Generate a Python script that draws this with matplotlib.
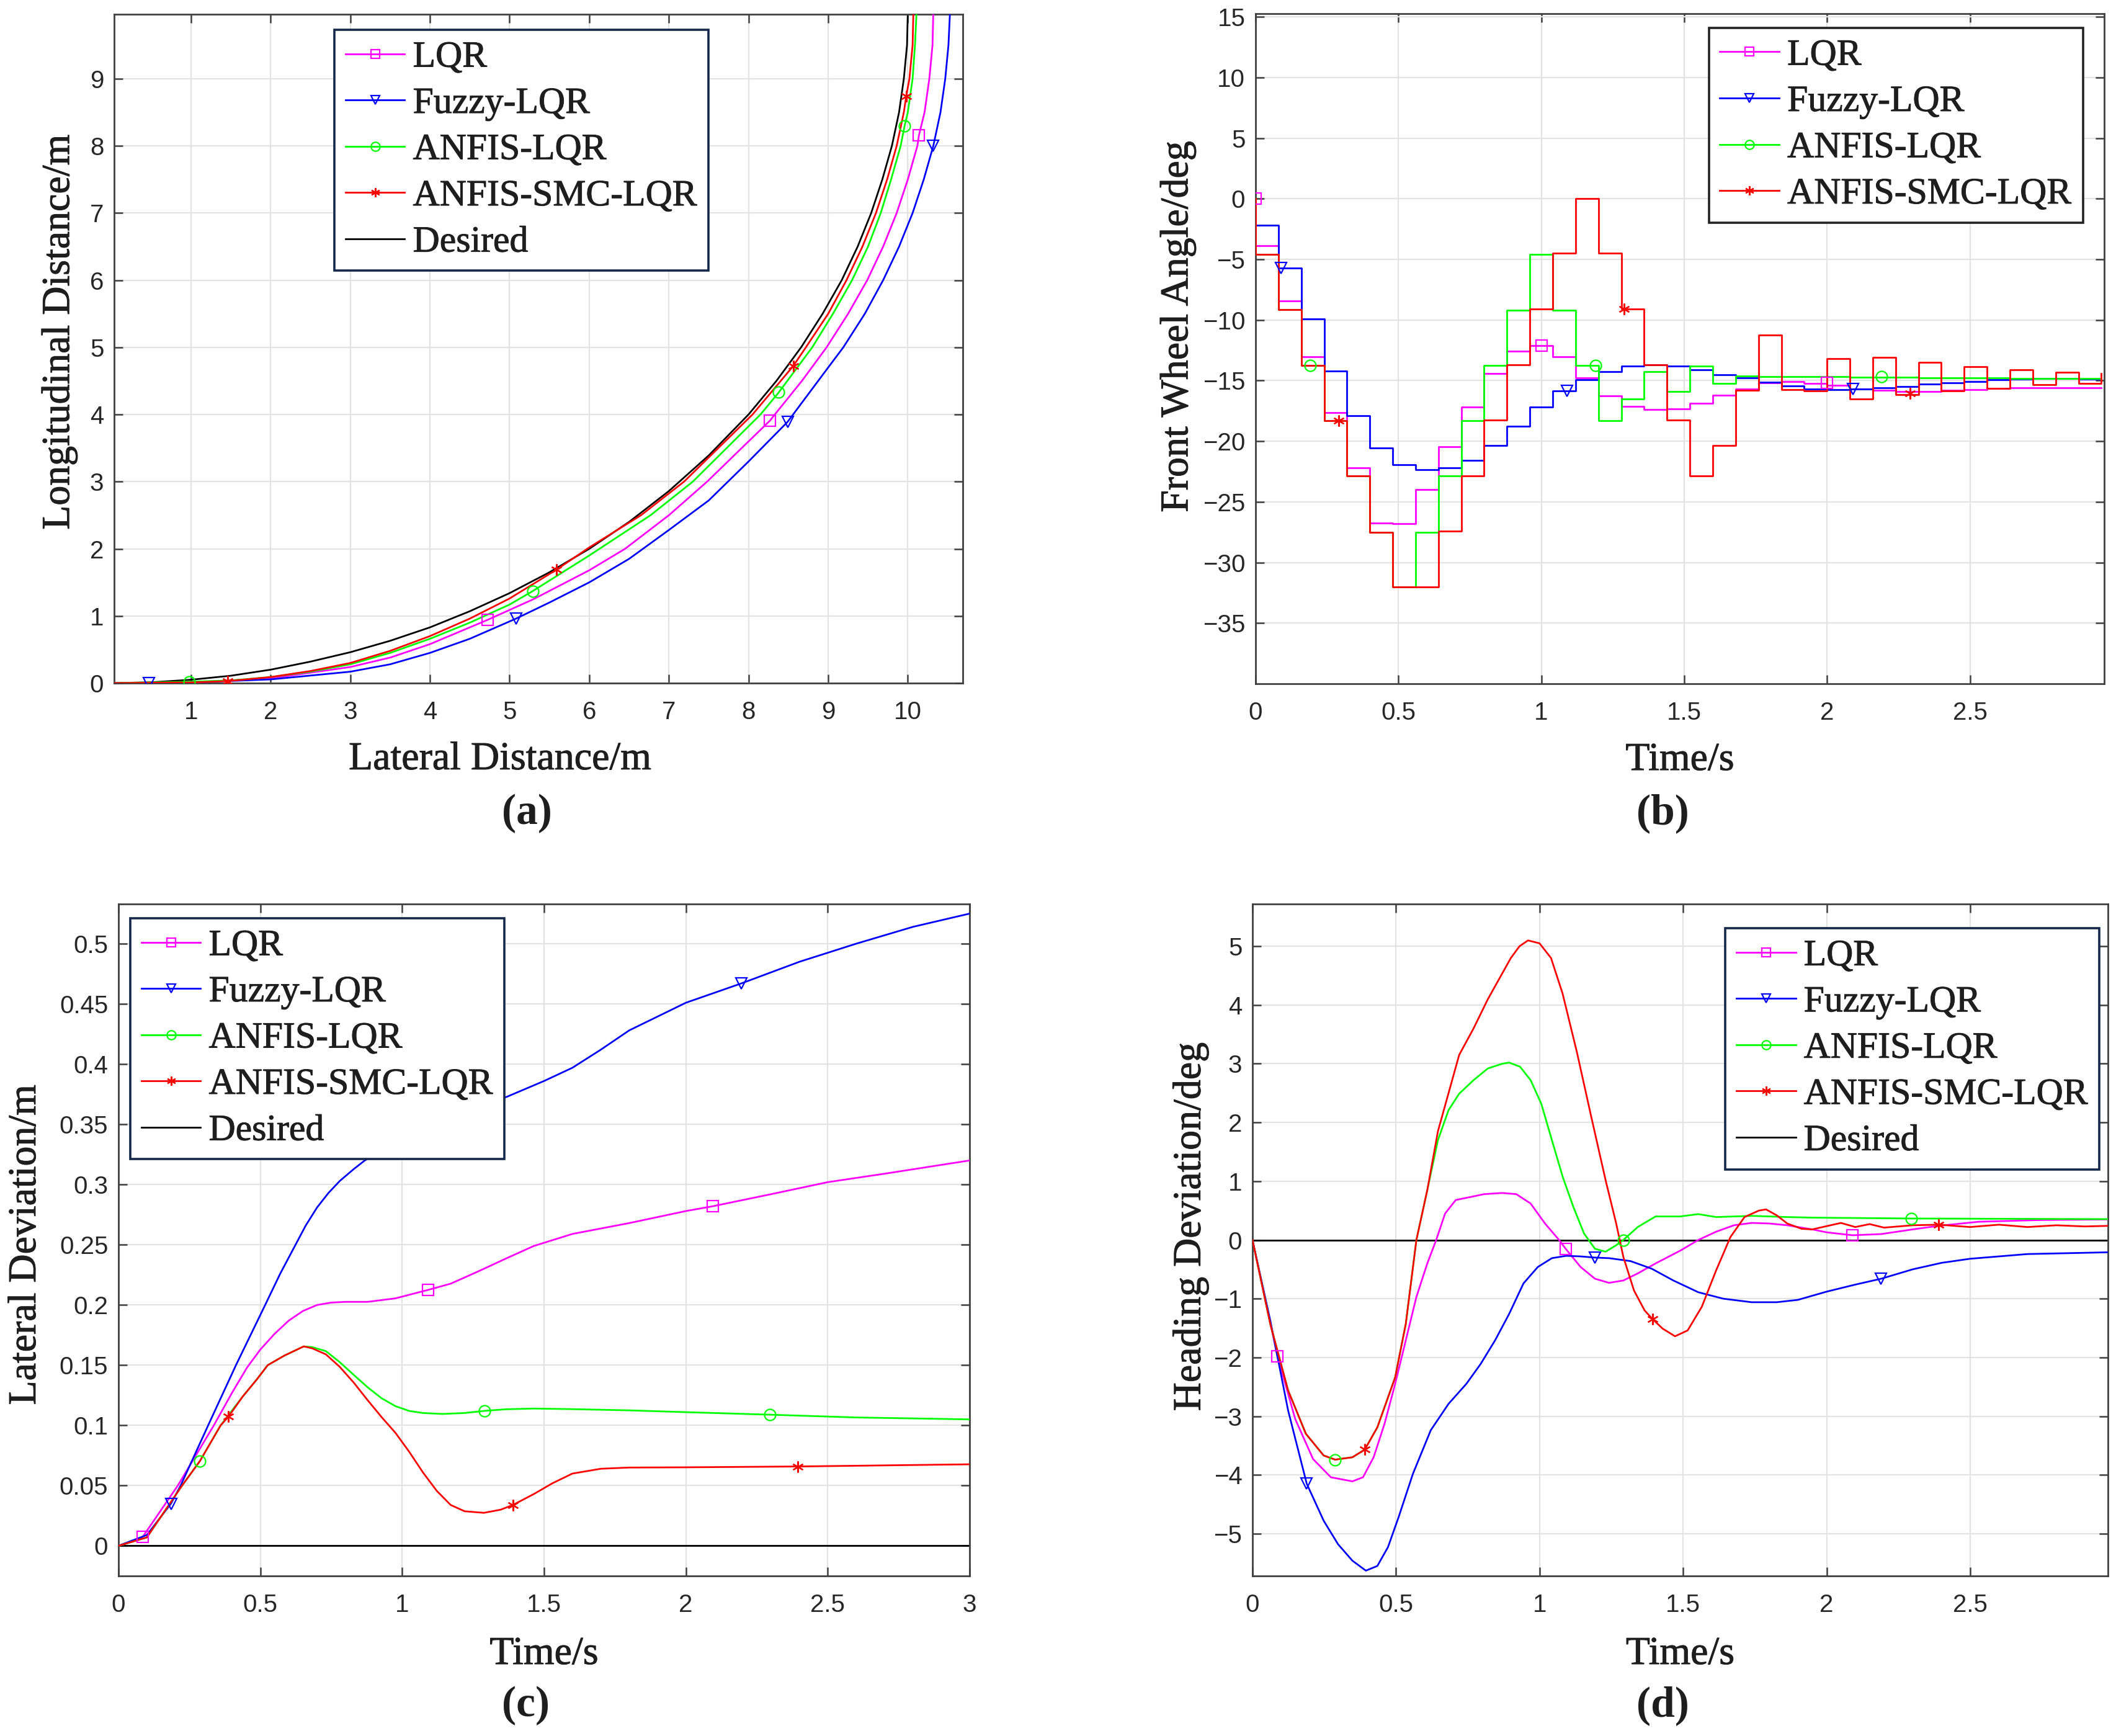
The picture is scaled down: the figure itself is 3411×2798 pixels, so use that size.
import numpy as np
import matplotlib
matplotlib.use("Agg")
import matplotlib.pyplot as plt
import matplotlib.patheffects as pe
from matplotlib.lines import Line2D
from matplotlib.ticker import FuncFormatter

# ---------------- common ----------------
names = ["LQR", "Fuzzy-LQR", "ANFIS-LQR", "ANFIS-SMC-LQR", "Desired"]
colors = ["#FF00FF", "#0000FF", "#00FF00", "#FF0000", "#000000"]
markers = ["s", "v", "o", (6, 2, 0), None]

# ---------------- (a) trajectory ----------------
a_des_x = [0, 0.5, 1, 1.5, 2, 2.5, 3, 3.5, 4, 4.5, 5, 5.5, 6, 6.5, 7, 7.5, 8, 8.35, 8.66, 8.93, 9.17, 9.37, 9.54,
           9.68, 9.8, 9.89, 9.95, 9.99, 10.0]
a_des_y = [0, 0.012, 0.05, 0.11, 0.2, 0.32, 0.46, 0.63, 0.83, 1.07, 1.34, 1.65, 2.0, 2.4, 2.86, 3.39, 4.0, 4.5, 5.0,
           5.5, 6.0, 6.5, 7.0, 7.5, 8.0, 8.5, 9.0, 9.5, 10.0]
a_smc_x = [0, 1, 1.46, 2, 2.5, 3, 3.5, 4, 4.5, 5, 5.59, 6, 6.65, 7.19, 8.05, 8.56, 8.72, 9.0, 9.23, 9.43, 9.6, 9.74,
           9.86, 9.95, 9.98, 10.02, 10.06, 10.07]
a_smc_y = [0, 0.01, 0.03, 0.09, 0.18, 0.3, 0.48, 0.7, 0.96, 1.26, 1.69, 2.02, 2.5, 3.0, 4.0, 4.72, 5.0, 5.5, 6.0,
           6.5, 7.0, 7.5, 8.0, 8.5, 8.74, 9.0, 9.5, 10.0]
a_anf_x = [0, 0.98, 1.5, 2, 2.5, 3, 3.5, 4, 4.5, 5, 5.29, 6, 6.77, 7.3, 8.15, 8.38, 8.8, 9.06, 9.3, 9.5, 9.66, 9.79,
           9.91, 9.96, 10.0, 10.06, 10.09, 10.11]
a_anf_y = [0, 0.02, 0.04, 0.09, 0.17, 0.28, 0.45, 0.66, 0.9, 1.17, 1.37, 1.9, 2.5, 3.0, 4.0, 4.33, 5.0, 5.5, 6.0,
           6.5, 7.0, 7.5, 8.0, 8.3, 8.5, 9.0, 9.5, 10.0]
a_lqr_x = [0, 1, 2, 3, 3.5, 4, 4.72, 5.3, 6, 6.45, 7.0, 7.48, 8.27, 8.33, 8.67, 8.98, 9.25, 9.49, 9.69, 9.86, 10.0,
           10.12, 10.14, 10.21, 10.27, 10.31, 10.32]
a_lqr_y = [0, 0.01, 0.07, 0.24, 0.38, 0.58, 0.94, 1.25, 1.68, 2.0, 2.5, 3.0, 3.91, 4.0, 4.5, 5.0, 5.5, 6.0, 6.5,
           7.0, 7.5, 8.0, 8.16, 8.5, 9.0, 9.5, 10.0]
a_fuz_x = [0, 0.47, 1, 2, 3, 3.5, 4, 4.5, 5.08, 5.5, 6, 6.5, 7, 7.5, 8, 8.49, 9.0, 9.19, 9.46, 9.69, 9.89, 10.06,
           10.2, 10.32, 10.41, 10.47, 10.51, 10.53]
a_fuz_y = [0, 0.0, 0.01, 0.055, 0.17, 0.28, 0.45, 0.66, 0.96, 1.2, 1.5, 1.85, 2.28, 2.72, 3.3, 3.89, 4.7, 5.0, 5.5,
           6.0, 6.5, 7.0, 7.5, 8.0, 8.5, 9.0, 9.5, 10.0]
a_mk_lqr = ([4.72, 8.27, 10.14], [0.94, 3.91, 8.16])
a_mk_fuz = ([0.47, 5.08, 8.49, 10.32], [0.0, 0.96, 3.89, 8.0])
a_mk_anf = ([0.98, 5.29, 8.38, 9.96], [0.02, 1.37, 4.33, 8.30])
a_mk_smc = ([1.46, 5.59, 8.56, 9.98], [0.03, 1.69, 4.72, 8.74])

# ---------------- (b) front wheel angle (sampled, 0.08 s) ----------------
b_dt = 0.08
b_lqr = [-3.88, -8.42, -13.06, -17.63, -22.19, -26.76, -26.8, -24.0, -20.46, -17.17, -14.43, -12.6, -12.1,
         -13.06, -14.77, -16.26, -17.12, -17.4, -17.35, -16.87, -16.19, -15.68, -15.16, -15.07, -15.25, -15.41,
         -15.7, -15.8, -15.9, -15.9, -15.8, -15.73, -15.64, -15.57, -15.57, -15.57, -15.57, -15.57]
b_fuz = [-2.17, -5.71, -9.93, -14.2, -17.88, -20.55, -21.96, -22.37, -22.19, -21.58, -20.37, -18.77, -17.17,
         -15.87, -14.93, -14.27, -13.79, -13.7, -13.8, -14.1, -14.5, -14.8, -15.15, -15.46, -15.68, -15.73,
         -15.7, -15.6, -15.5, -15.3, -15.2, -15.07, -14.95, -14.88, -14.85, -14.85, -14.9, -14.9]
b_anf = [-4.57, -9.13, -13.74, -18.3, -22.88, -27.5, -32.0, -27.5, -22.88, -18.3, -13.74, -9.18, -4.61,
         -9.18, -13.74, -18.3, -16.53, -14.25, -15.9, -13.8, -15.23, -14.6, -14.66, -14.66, -14.68, -14.68,
         -14.7, -14.72, -14.74, -14.76, -14.78, -14.8, -14.8, -14.82, -14.82, -14.84, -14.84, -14.84]
b_smc = [-4.57, -9.13, -13.74, -18.3, -22.88, -27.5, -32.0, -32.0, -27.4, -22.88, -18.26, -13.7, -9.09,
         -4.5, 0.0, -4.5, -9.09, -13.7, -18.26, -22.88, -20.37, -15.8, -11.23, -15.75, -15.84, -13.17,
         -16.53, -13.1, -16.14, -13.52, -15.84, -13.86, -15.62, -14.09, -15.34, -14.32, -15.23, -14.4]
b_mk_lqr = ([0.0, 1.0, 2.0], [0.0, -12.1, -15.16])
b_mk_fuz = ([0.09, 1.09, 2.09], [-5.71, -15.87, -15.68])
b_mk_anf = ([0.19, 1.19, 2.19], [-13.74, -13.74, -14.66])
b_mk_smc = ([0.29, 1.29, 2.29], [-18.3, -9.09, -16.07])

# ---------------- (c) lateral deviation ----------------
c_lqr_t = [0, 0.085, 0.209, 0.336, 0.4, 0.453, 0.5, 0.55, 0.6, 0.65, 0.7, 0.75, 0.8, 0.878, 0.976, 1.091,
           1.171, 1.269, 1.366, 1.464, 1.6, 1.8, 2.0, 2.095, 2.3, 2.5, 2.7, 3.0]
c_lqr_y = [0, 0.0073, 0.05, 0.1, 0.127, 0.148, 0.163, 0.176, 0.187, 0.195, 0.2, 0.202, 0.2026, 0.2026, 0.2055,
           0.2125, 0.2177, 0.228, 0.2386, 0.249, 0.259, 0.268, 0.278, 0.282, 0.292, 0.302, 0.309, 0.32]
c_fuz_t = [0, 0.1, 0.185, 0.219, 0.316, 0.414, 0.517, 0.57, 0.624, 0.66, 0.7, 0.74, 0.78, 0.83, 0.868, 1.0, 1.1,
           1.2, 1.3, 1.37, 1.5, 1.6, 1.7, 1.8, 2.0, 2.195, 2.4, 2.6, 2.8, 3.0]
c_fuz_y = [0, 0.009, 0.035, 0.05, 0.1, 0.15, 0.2, 0.226, 0.25, 0.266, 0.281, 0.293, 0.303, 0.313, 0.32, 0.337,
           0.349, 0.359, 0.367, 0.373, 0.386, 0.397, 0.412, 0.428, 0.451, 0.467, 0.485, 0.5, 0.514, 0.525]
c_anf_t = [0, 0.1, 0.224, 0.287, 0.36, 0.438, 0.487, 0.526, 0.585, 0.653, 0.683, 0.731, 0.78, 0.829, 0.878, 0.927,
           0.976, 1.025, 1.073, 1.142, 1.22, 1.291, 1.366, 1.464, 1.6, 1.8, 2.0, 2.295, 2.6, 3.0]
c_anf_y = [0, 0.007, 0.05, 0.0704, 0.1, 0.124, 0.138, 0.15, 0.158, 0.1656, 0.165, 0.1617, 0.1525, 0.142, 0.1317,
           0.1226, 0.116, 0.112, 0.1103, 0.1095, 0.1103, 0.1121, 0.1134, 0.114, 0.1135, 0.1125, 0.111, 0.1089,
           0.1066, 0.105]
c_smc_t = [0, 0.1, 0.224, 0.287, 0.36, 0.388, 0.438, 0.487, 0.526, 0.585, 0.653, 0.683, 0.731, 0.78, 0.829, 0.878,
           0.927, 0.976, 1.025, 1.073, 1.122, 1.171, 1.22, 1.288, 1.347, 1.39, 1.464, 1.53, 1.6, 1.7, 1.8, 2.0,
           2.4, 3.0]
c_smc_y = [0, 0.007, 0.05, 0.0704, 0.1, 0.1074, 0.124, 0.138, 0.15, 0.158, 0.1656, 0.164, 0.159, 0.1486, 0.1356,
           0.121, 0.107, 0.0939, 0.078, 0.061, 0.0456, 0.0339, 0.0287, 0.0274, 0.03, 0.0339, 0.043, 0.052, 0.06,
           0.064, 0.065, 0.0652, 0.0659, 0.0677]
c_des_t = [0, 3.0]
c_des_y = [0, 0]
c_mk_lqr = ([0.085, 1.091, 2.095], [0.0073, 0.2125, 0.282])
c_mk_fuz = ([0.185, 1.19, 2.195], [0.035, 0.36, 0.467])
c_mk_anf = ([0.287, 1.291, 2.295], [0.0704, 0.1121, 0.1089])
c_mk_smc = ([0.388, 1.39, 2.395], [0.1074, 0.0339, 0.0659])

# ---------------- (d) heading deviation ----------------
d_lqr_t = [0, 0.087, 0.149, 0.211, 0.273, 0.348, 0.385, 0.422, 0.46, 0.497, 0.534, 0.571, 0.609, 0.64, 0.671,
           0.708, 0.758, 0.807, 0.87, 0.919, 0.969, 1.019, 1.068, 1.091, 1.143, 1.193, 1.242, 1.292, 1.342, 1.404,
           1.491, 1.553, 1.615, 1.677, 1.739, 1.801, 1.863, 1.95, 2.0, 2.09, 2.19, 2.3, 2.39, 2.53, 2.75, 2.98]
d_lqr_y = [0, -1.98, -3.05, -3.73, -4.04, -4.11, -4.04, -3.7, -3.13, -2.45, -1.71, -0.97, -0.4, 0, 0.45, 0.68,
           0.73, 0.78, 0.8, 0.78, 0.62, 0.28, 0, -0.15, -0.46, -0.66, -0.73, -0.69, -0.57, -0.4, -0.18, 0, 0.14,
           0.25, 0.29, 0.28, 0.25, 0.18, 0.13, 0.08, 0.1, 0.18, 0.24, 0.31, 0.34, 0.35]
d_fuz_t = [0, 0.062, 0.124, 0.189, 0.248, 0.298, 0.348, 0.395, 0.435, 0.472, 0.509, 0.559, 0.621, 0.683, 0.745,
           0.795, 0.845, 0.894, 0.944, 0.994, 1.043, 1.093, 1.143, 1.193, 1.242, 1.317, 1.391, 1.466, 1.553, 1.64,
           1.739, 1.826, 1.9, 2.0, 2.1, 2.19, 2.3, 2.4, 2.5, 2.7, 2.98]
d_fuz_y = [0, -1.37, -2.9, -4.15, -4.78, -5.18, -5.46, -5.63, -5.55, -5.23, -4.72, -3.98, -3.24, -2.79, -2.45,
           -2.11, -1.71, -1.26, -0.74, -0.46, -0.31, -0.27, -0.28, -0.3, -0.31, -0.36, -0.49, -0.69, -0.89, -1.0,
           -1.06, -1.06, -1.02, -0.88, -0.76, -0.66, -0.5, -0.39, -0.32, -0.24, -0.21]
d_anf_t = [0, 0.062, 0.124, 0.186, 0.248, 0.288, 0.348, 0.391, 0.435, 0.497, 0.534, 0.571, 0.609, 0.646, 0.683,
           0.72, 0.77, 0.82, 0.87, 0.894, 0.932, 0.969, 1.006, 1.043, 1.081, 1.118, 1.155, 1.193, 1.23, 1.267,
           1.292, 1.342, 1.404, 1.49, 1.553, 1.615, 1.739, 1.863, 1.95, 2.3, 2.98]
d_anf_y = [0, -1.43, -2.56, -3.3, -3.67, -3.74, -3.7, -3.57, -3.19, -2.34, -1.43, 0, 0.85, 1.7, 2.21, 2.49, 2.72,
           2.92, 3.0, 3.02, 2.95, 2.72, 2.32, 1.7, 1.07, 0.56, 0.11, -0.15, -0.2, -0.09, 0, 0.22, 0.4, 0.4, 0.44,
           0.39, 0.41, 0.39, 0.38, 0.365, 0.355]
d_smc_t = [0, 0.062, 0.124, 0.186, 0.248, 0.288, 0.348, 0.391, 0.435, 0.497, 0.534, 0.571, 0.609, 0.646, 0.683,
           0.72, 0.77, 0.82, 0.86, 0.9, 0.93, 0.96, 1.0, 1.04, 1.08, 1.13, 1.18, 1.23, 1.267, 1.292, 1.329, 1.366,
           1.394, 1.429, 1.472, 1.516, 1.565, 1.615, 1.665, 1.714, 1.764, 1.789, 1.826, 1.863, 1.913, 1.95, 2.05,
           2.1, 2.15, 2.2, 2.3, 2.39, 2.5, 2.6, 2.7, 2.8, 2.9, 2.98]
d_smc_y = [0, -1.43, -2.56, -3.3, -3.67, -3.74, -3.7, -3.57, -3.19, -2.34, -1.43, 0, 0.85, 1.85, 2.5, 3.15, 3.6,
           4.1, 4.45, 4.8, 5.0, 5.1, 5.05, 4.8, 4.2, 3.2, 2.1, 1.02, 0.28, -0.29, -0.86, -1.2, -1.35, -1.51, -1.64,
           -1.54, -1.14, -0.52, 0.05, 0.39, 0.5, 0.52, 0.42, 0.28, 0.19, 0.18, 0.29, 0.22, 0.27, 0.21, 0.25, 0.26,
           0.22, 0.26, 0.22, 0.25, 0.23, 0.24]
d_des_t = [0, 2.98]
d_des_y = [0, 0]
d_mk_lqr = ([0.087, 1.091, 2.09], [-1.98, -0.15, 0.08])
d_mk_fuz = ([0.189, 1.193, 2.19], [-4.15, -0.3, -0.66])
d_mk_anf = ([0.288, 1.292, 2.295], [-3.74, 0.0, 0.365])
d_mk_smc = ([0.391, 1.394, 2.39], [-3.57, -1.35, 0.26])

# ---------------- style ----------------
SERIF = ["Liberation Serif", "DejaVu Serif"]
SANS = ["Liberation Sans", "DejaVu Sans"]
plt.rcParams["font.family"] = SANS
plt.rcParams["axes.unicode_minus"] = True
LW = 2.0
MS = 13
MEW = 1.6
TXT = "#1e1e1e"
SPINE = "#404040"
HEAVY = [pe.withStroke(linewidth=0.7, foreground=TXT)]

W, H = 3411, 2798
fig = plt.figure(figsize=(W / 100, H / 100), dpi=100)


def box(l, r, b, t):
    return [l / W, 1 - b / H, (r - l) / W, (b - t) / H]


def style_axes(ax):
    for s in ax.spines.values():
        s.set_color(SPINE)
        s.set_linewidth(2.0)
    ax.tick_params(direction="in", length=10, width=1.8, colors=SPINE, labelcolor="#262626",
                   labelsize=29, top=True, right=True)
    ax.tick_params(axis="x", pad=20)
    ax.tick_params(axis="y", pad=12)
    ax.grid(True, color="#e3e3e3", linewidth=1.6)
    ax.set_axisbelow(True)
    for lab in ax.get_xticklabels() + ax.get_yticklabels():
        lab.set_family(SANS)


def curves(ax, series, mks):
    for i, (x, y) in enumerate(series):
        ax.plot(x, y, color=colors[i], lw=LW, zorder=3 + (i if i < 4 else -1))
    for i, (mx, my) in enumerate(mks):
        ax.plot(mx, my, ls="none", marker=markers[i], ms=MS, mfc="none", mec=colors[i], mew=MEW, zorder=7)


def legend(ax, n, anchor, edge):
    hs = []
    for i in range(n):
        hs.append(Line2D([0], [0], color=colors[i], lw=LW, marker=markers[i], ms=MS * 0.8,
                         mfc="none", mec=colors[i], mew=MEW))
    lg = ax.legend(hs, names[:n], loc="upper left", bbox_to_anchor=anchor, borderaxespad=0,
                   prop={"family": SERIF, "size": 43}, frameon=True, fancybox=False, framealpha=1,
                   edgecolor=edge, borderpad=0.3, labelspacing=0.33, handlelength=1.6,
                   handletextpad=0.22, numpoints=1)
    lg.get_frame().set_linewidth(2.6)
    lg.set_zorder(10)
    for t in lg.get_texts():
        t.set_color(TXT)
        t.set_path_effects(HEAVY)
    return lg


def labels(ax, xl, yl, xc, yc):
    ax.set_xlabel(xl, family=SERIF, fontsize=46, color=TXT, path_effects=HEAVY)
    ax.set_ylabel(yl, family=SERIF, fontsize=46, color=TXT, path_effects=HEAVY)
    ax.xaxis.set_label_coords(*xc)
    ax.yaxis.set_label_coords(*yc)


# ---- (a)
axa = fig.add_axes(box(184, 1552, 1101, 23))
curves(axa, [(a_lqr_x, a_lqr_y), (a_fuz_x, a_fuz_y), (a_anf_x, a_anf_y), (a_smc_x, a_smc_y), (a_des_x, a_des_y)],
       [a_mk_lqr, a_mk_fuz, a_mk_anf, a_mk_smc])
axa.set_xlim(0.035, 10.69)
axa.set_ylim(0, 9.96)
axa.set_xticks(range(1, 11))
axa.set_yticks(range(0, 10))
style_axes(axa)
legend(axa, 5, (0.2595, 0.977), "#14284a")
labels(axa, "Lateral Distance/m", "Longitudinal Distance/m", (0.4547, -0.088), (-0.043, 0.525))

# ---- (b)
axb = fig.add_axes(box(2024, 3392, 1102, 22))
k = np.arange(len(b_lqr))
t_edges = np.concatenate([[0.0], k * b_dt])
for i, vals in enumerate([b_lqr, b_fuz, b_anf, b_smc]):
    axb.plot(t_edges, np.concatenate([[0.0], vals]), drawstyle="steps-post", color=colors[i], lw=LW, zorder=3 + i)
for i, (mx, my) in enumerate([b_mk_lqr, b_mk_fuz, b_mk_anf, b_mk_smc]):
    axb.plot(mx, my, ls="none", marker=markers[i], ms=MS, mfc="none", mec=colors[i], mew=MEW, zorder=7)
axb.set_xlim(0, 2.97)
axb.set_ylim(-40, 15.26)
axb.set_xticks([0, 0.5, 1, 1.5, 2, 2.5])
axb.set_yticks(range(-35, 16, 5))
axb.xaxis.set_major_formatter(FuncFormatter(lambda v, p: "%g" % v))
style_axes(axb)
legend(axb, 4, (0.534, 0.979), "#222222")
labels(axb, "Time/s", "Front Wheel Angle/deg", (0.5, -0.088), (-0.070, 0.533))

# ---- (c)
axc = fig.add_axes(box(191, 1563, 2540, 1457))
curves(axc, [(c_lqr_t, c_lqr_y), (c_fuz_t, c_fuz_y), (c_anf_t, c_anf_y), (c_smc_t, c_smc_y), (c_des_t, c_des_y)],
       [c_mk_lqr, c_mk_fuz, c_mk_anf, c_mk_smc])
axc.set_xlim(0, 3)
axc.set_ylim(-0.025, 0.533)
axc.set_xticks([0, 0.5, 1, 1.5, 2, 2.5, 3])
axc.set_yticks(np.arange(0, 0.51, 0.05))
axc.xaxis.set_major_formatter(FuncFormatter(lambda v, p: "%g" % v))
axc.yaxis.set_major_formatter(FuncFormatter(lambda v, p: "%g" % round(v, 2)))
style_axes(axc)
legend(axc, 5, (0.0138, 0.979), "#14284a")
labels(axc, "Time/s", "Lateral Deviation/m", (0.5, -0.0905), (-0.0875, 0.493))

# ---- (d)
axd = fig.add_axes(box(2019, 3398, 2540, 1457))
curves(axd, [(d_lqr_t, d_lqr_y), (d_fuz_t, d_fuz_y), (d_anf_t, d_anf_y), (d_smc_t, d_smc_y), (d_des_t, d_des_y)],
       [d_mk_lqr, d_mk_fuz, d_mk_anf, d_mk_smc])
axd.set_xlim(0, 2.98)
axd.set_ylim(-5.72, 5.72)
axd.set_xticks([0, 0.5, 1, 1.5, 2, 2.5])
axd.set_yticks(range(-5, 6))
axd.xaxis.set_major_formatter(FuncFormatter(lambda v, p: "%g" % v))
style_axes(axd)
legend(axd, 5, (0.5526, 0.964), "#14284a")
labels(axd, "Time/s", "Heading Deviation/deg", (0.5, -0.0905), (-0.051, 0.52))

# panel letters
for lab, x, y in [("(a)", 849, 1311), ("(b)", 2680, 1311), ("(c)", 848, 2749), ("(d)", 2680, 2749)]:
    fig.text(x / W, 1 - y / H, lab, ha="center", va="center", family=SERIF, fontsize=50,
             fontweight="bold", color=TXT)

fig.savefig("out.png", dpi=100, facecolor="white")
